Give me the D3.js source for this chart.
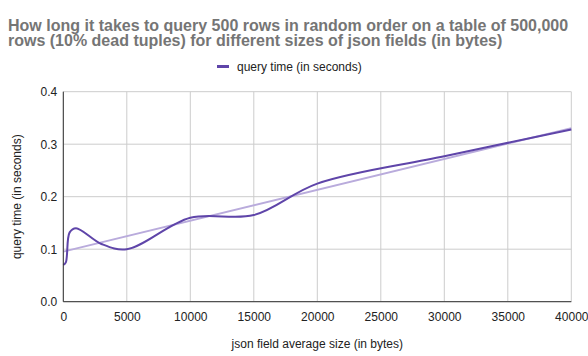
<!DOCTYPE html>
<html><head><meta charset="utf-8">
<script src="https://cdn.jsdelivr.net/npm/d3@7"></script>
<style>body{margin:0;background:#fff;}svg{display:block;font-family:"Liberation Sans",Arial,sans-serif;}</style>
</head><body><svg id="c" width="588" height="356"></svg>
<script>
const sizes = [0, 200, 500, 1000, 3000, 5000, 10000, 15000, 20000, 30000, 40000];
const times = [0.07, 0.075, 0.132, 0.14, 0.11, 0.10, 0.16, 0.165, 0.225, 0.277, 0.328];
const xTicks = [0, 5000, 10000, 15000, 20000, 25000, 30000, 35000, 40000];
const yTicks = [0, 0.1, 0.2, 0.3, 0.4];
const titleLines = ["How long it takes to query 500 rows in random order on a table of 500,000",
                    "rows (10% dead tuples) for different sizes of json fields (in bytes)"];
const seriesName = "query time (in seconds)";
const xTitle = "json field average size (in bytes)";
const yTitle = "query time (in seconds)";

const svg = d3.select("#c");
const L = 63.3, R = 571.3, T = 91.7, B = 301.7;
const x = d3.scaleLinear().domain([0, 40000]).range([L, R]);
const y = d3.scaleLinear().domain([0, 0.4]).range([B, T]);
const main = "#5f45a9", light = "#b9abdc";

// title
svg.append("g").selectAll("text").data(titleLines).join("text")
  .attr("x", 8).attr("y", (d, i) => 30.5 + i * 15.5)
  .attr("font-size", 16).attr("font-weight", "bold").attr("fill", "#757575").text(d => d);

// legend
svg.append("line").attr("x1", 217).attr("x2", 229).attr("y1", 66.5).attr("y2", 66.5)
  .attr("stroke", main).attr("stroke-width", 3);
svg.append("text").attr("x", 237).attr("y", 71).attr("font-size", 12).attr("fill", "#222").text(seriesName);

// grid
const g = svg.append("g");
g.selectAll(".gx").data(xTicks).join("line").attr("x1", d => x(d)).attr("x2", d => x(d))
  .attr("y1", T).attr("y2", B).attr("stroke", "#cccccc").attr("stroke-width", 1);
g.selectAll(".gy").data(yTicks).join("line").attr("x1", L).attr("x2", R)
  .attr("y1", d => y(d)).attr("y2", d => y(d)).attr("stroke", "#cccccc").attr("stroke-width", 1);

// axes
const xa = svg.append("g").attr("transform", `translate(0,${B})`)
  .call(d3.axisBottom(x).tickValues(xTicks).tickSize(0).tickPadding(11).tickFormat(d3.format("d")));
xa.select(".domain").remove();
const ya = svg.append("g").attr("transform", `translate(${L},0)`)
  .call(d3.axisLeft(y).tickValues(yTicks).tickSize(0).tickPadding(6).tickFormat(d3.format(".1f")));
ya.select(".domain").remove();
svg.selectAll(".tick text").attr("font-size", 12).attr("fill", "#222").attr("font-family", "Liberation Sans, Arial, sans-serif");

// trendline (least squares from data)
const mx = d3.mean(sizes), my = d3.mean(times);
const slope = d3.sum(sizes, (s, i) => (s - mx) * (times[i] - my)) / d3.sum(sizes, s => (s - mx) ** 2);
const icpt = my - slope * mx;
const ext = d3.extent(sizes);
svg.append("line").attr("x1", x(ext[0])).attr("x2", x(ext[1]))
  .attr("y1", y(icpt + slope * ext[0])).attr("y2", y(icpt + slope * ext[1]))
  .attr("stroke", light).attr("stroke-width", 2);

// series
const pts = sizes.map((s, i) => [s, times[i]]);
svg.append("path").datum(pts)
  .attr("d", d3.line().x(d => x(d[0])).y(d => y(d[1])).curve(d3.curveCatmullRom.alpha(0.5)))
  .attr("fill", "none").attr("stroke", main).attr("stroke-width", 2);

// baseline axes lines
svg.append("line").attr("x1", L).attr("x2", R).attr("y1", B).attr("y2", B).attr("stroke", "#333").attr("stroke-width", 1);
svg.append("line").attr("x1", L).attr("x2", L).attr("y1", T).attr("y2", B).attr("stroke", "#333").attr("stroke-width", 1);

// axis titles
svg.append("text").attr("x", (L + R) / 2).attr("y", 348).attr("text-anchor", "middle")
  .attr("font-size", 12).attr("fill", "#222").text(xTitle);
svg.append("text").attr("transform", `translate(21,${(T + B) / 2}) rotate(-90)`).attr("text-anchor", "middle")
  .attr("font-size", 12).attr("fill", "#222").text(yTitle);
</script></body></html>
